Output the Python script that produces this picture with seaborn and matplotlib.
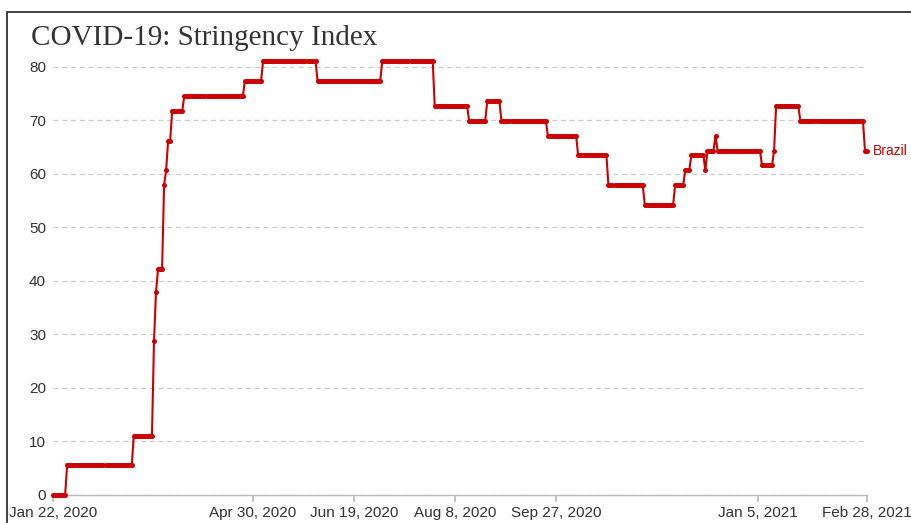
import matplotlib
matplotlib.use('Agg')
import matplotlib.pyplot as plt
import seaborn as sns
import pandas as pd
from matplotlib.lines import Line2D

# stringency index for Brazil, stored as the days the value changed
change_dates = ['2020-01-22', '2020-01-29', '2020-03-02', '2020-03-12', '2020-03-13',
                '2020-03-14', '2020-03-17', '2020-03-18', '2020-03-19', '2020-03-21',
                '2020-03-27', '2020-04-26', '2020-05-05', '2020-06-01', '2020-07-03',
                '2020-07-29', '2020-08-15', '2020-08-24', '2020-08-31', '2020-09-23',
                '2020-10-08', '2020-10-23', '2020-11-10', '2020-11-25', '2020-11-30',
                '2020-12-03', '2020-12-10', '2020-12-11', '2020-12-15', '2020-12-16',
                '2021-01-07', '2021-01-13', '2021-01-14', '2021-01-26', '2021-02-27']
change_values = [0.0, 5.56, 11.11, 28.7, 37.96,
                 42.13, 57.87, 60.65, 66.2, 71.76,
                 74.54, 77.31, 81.02, 77.31, 81.02,
                 72.69, 69.91, 73.61, 69.91, 67.13,
                 63.43, 57.87, 54.17, 57.87, 60.65,
                 63.43, 60.65, 64.35, 67.13, 64.35,
                 61.57, 64.35, 72.69, 69.91, 64.35]
last_date = '2021-02-28'
country = 'Brazil'

tick_dates = ['2020-01-22', '2020-04-30', '2020-06-19', '2020-08-08',
              '2020-09-27', '2021-01-05', '2021-02-28']
tick_labels = ['Jan 22, 2020', 'Apr 30, 2020', 'Jun 19, 2020', 'Aug 8, 2020',
               'Sep 27, 2020', 'Jan 5, 2021', 'Feb 28, 2021']
y_ticks = [0, 10, 20, 30, 40, 50, 60, 70, 80]

days = pd.date_range(change_dates[0], last_date, freq='D')
steps = pd.Series(change_values, index=pd.to_datetime(change_dates))
df = pd.DataFrame({'date': days, 'stringency': steps.reindex(days).ffill().values})

sns.set_theme(style='white')
plt.rcParams['font.family'] = ['Liberation Sans', 'DejaVu Sans']

W, H = 911, 523
red = '#cc0000'
fig = plt.figure(figsize=(W / 100, H / 100), dpi=100)
ax = fig.add_axes([53 / W, 1 - 495 / H, (867 - 53) / W, (495 - 55) / H])

sns.lineplot(data=df, x='date', y='stringency', ax=ax, color=red, linewidth=1.5,
             marker='o', markersize=3.6, markeredgewidth=0, clip_on=False, zorder=4)

ax.set_xlim(days[0], days[-1])
ax.set_ylim(0, 82.2)
ax.set_yticks(y_ticks)
ax.set_xticks(pd.to_datetime(tick_dates))
ax.set_xticklabels(tick_labels)
ax.set_xlabel('')
ax.set_ylabel('')

ax.yaxis.grid(True, linestyle=(0, (4, 3)), color='#cccccc', linewidth=0.9)
ax.xaxis.grid(False)
for side in ['left', 'right', 'top']:
    ax.spines[side].set_visible(False)
ax.spines['bottom'].set_color('#bbbbbb')
ax.spines['bottom'].set_linewidth(1)
ax.spines['bottom'].set_zorder(1)
ax.tick_params(axis='x', bottom=True, length=5, color='#bbbbbb', labelsize=11,
               labelcolor='#333333', pad=3)
ax.tick_params(axis='y', length=0, labelsize=11, labelcolor='#333333', pad=5)

ax.annotate(country, xy=(days[-1], df['stringency'].iloc[-1]), xytext=(4, 0),
            textcoords='offset points', va='center', ha='left', color=red,
            fontsize=10, annotation_clip=False)

fig.text(31 / W, 1 - 45 / H, 'COVID-19: Stringency Index', family='Liberation Serif',
         fontsize=21, color='#333333', va='baseline', ha='left')

# frame of the panel the chart sits in
fig.add_artist(Line2D([6.5 / W, 6.5 / W], [0, 1 - 12 / H], color='#333333', lw=1.3))
fig.add_artist(Line2D([6.5 / W, 1], [1 - 12 / H, 1 - 12 / H], color='#333333', lw=1.3))

fig.savefig('out.png', dpi=100)
